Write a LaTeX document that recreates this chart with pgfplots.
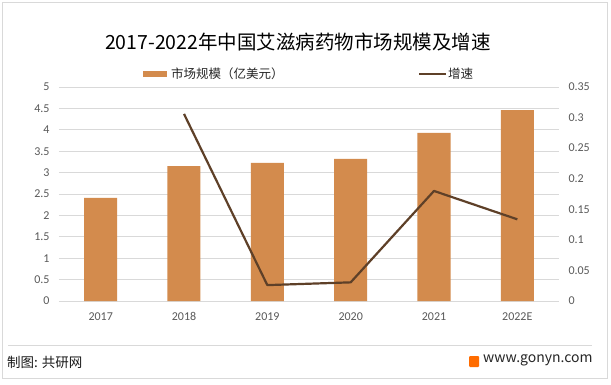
\documentclass[border=0pt]{standalone}
\usepackage{pgfplots}
\pgfplotsset{compat=1.18}
\usepackage{fontspec}
\setmainfont{Noto Sans CJK SC}
\newfontfamily\carlito{Carlito}
\definecolor{barc}{HTML}{D38B4D}
\definecolor{linec}{HTML}{5E4028}
\definecolor{gridc}{HTML}{D9D9D9}
\definecolor{tickc}{HTML}{595959}
\begin{document}
\begin{tikzpicture}[x=1pt,y=1pt]
\useasboundingbox (0,0) rectangle (611,384);
\fill[white] (0,0) rectangle (611,384);
% frame
\draw[gridc,line width=1pt] (2.5,5.5) rectangle (607,381.5);
\draw[gridc,line width=0.8pt] (8,39) -- (592,39);
% title
\node[font=\fontsize{19.5}{20}\selectfont, text=black] at (298,342) {2017-2022年中国艾滋病药物市场规模及增速};
% legend
\fill[barc] (143,307) rectangle (167,313);
\node[anchor=west, inner sep=0pt, font=\fontsize{12.5}{13}\selectfont, text=black!85] at (171,310) {市场规模（亿美元）};
\draw[linec, line width=2.2pt] (419,310) -- (446,310);
\node[anchor=west, inner sep=0pt, font=\fontsize{12.5}{13}\selectfont, text=black!85] at (448,310) {增速};
% footer
\node[anchor=west, inner sep=0pt, font=\fontsize{13.5}{14}\selectfont, text=black!90] at (7,22) {制图: 共研网};
\fill[orange!85!red, rounded corners=1pt] (469,17) rectangle (479,28);
\node[anchor=west, inner sep=0pt, font=\fontsize{14}{15}\selectfont, text=black!85] at (483,24) {www.gonyn.com};
\begin{axis}[
  at={(59pt,83pt)}, anchor=south west,
  scale only axis, width=500pt, height=214pt,
  xmin=-0.5, xmax=5.5, ymin=0, ymax=5,
  axis x line*=bottom, axis y line*=left,
  axis line style={draw=none},
  ymajorgrids, grid style={gridc, line width=0.8pt},
  ytick={0,0.5,...,5},
  xtick={0,1,2,3,4,5},
  xticklabels={2017,2018,2019,2020,2021,2022E},
  major tick length=0pt,
  /pgf/number format/assume math mode=true,
  /pgf/number format/fixed,
  ticklabel style={font=\carlito\fontsize{12}{12}\selectfont, text=tickc},
  yticklabel style={anchor=east, xshift=-6pt},
  xticklabel style={yshift=-8pt},
  clip=false,
]
\addplot[ybar, bar width=33pt, fill=barc, draw=none] coordinates {
  (0,2.41) (1,3.15) (2,3.23) (3,3.32) (4,3.93) (5,4.46)
};
\end{axis}
\begin{axis}[
  at={(59pt,83pt)}, anchor=south west,
  scale only axis, width=500pt, height=214pt,
  xmin=-0.5, xmax=5.5, ymin=0, ymax=0.35,
  axis x line=none, axis y line*=right, y axis line style={draw=none},
  ytick={0,0.05,0.1,0.15,0.2,0.25,0.3,0.35},
  major tick length=0pt,
  /pgf/number format/assume math mode=true,
  /pgf/number format/fixed,
  /pgf/number format/precision=2,
  ticklabel style={font=\carlito\fontsize{12}{12}\selectfont, text=tickc},
  yticklabel style={anchor=west, xshift=6pt},
  clip=false,
]
\addplot[linec, line width=2.2pt, line join=round] coordinates {
  (1,0.306) (2,0.026) (3,0.0305) (4,0.18) (5,0.1336)
};
\end{axis}
\end{tikzpicture}
\end{document}
